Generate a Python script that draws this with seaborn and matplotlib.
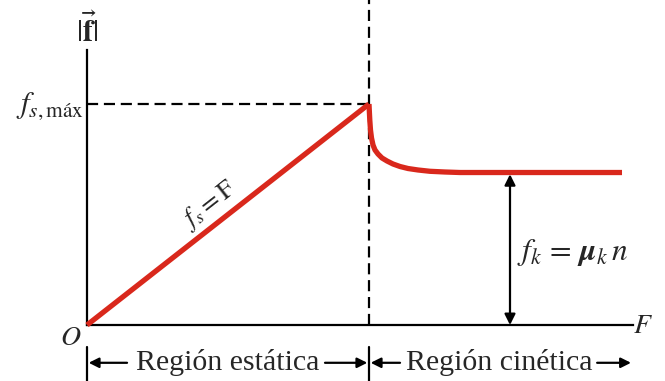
import matplotlib
matplotlib.use("Agg")
import matplotlib.pyplot as plt
import seaborn as sns
import pandas as pd

sns.set_theme(style="white")
plt.rcParams["font.family"] = ["Liberation Serif", "DejaVu Serif"]
plt.rcParams["mathtext.fontset"] = "stix"

# Applied force F (scaled so the breakaway point sits at F = 1)
static_F = [0.0, 1.0]
static_f = [0.0, 1.0]

# Friction drops from the static maximum to the kinetic level
kinetic_F = [1.0, 1.001, 1.0028, 1.0053, 1.0089, 1.0142, 1.0213, 1.0319, 1.0461,
             1.0638, 1.0851, 1.1099, 1.1383, 1.1738, 1.2163, 1.2695, 1.3227, 1.8972]
kinetic_f = [1.0, 0.9729, 0.9276, 0.8824, 0.8462, 0.8145, 0.7919, 0.7738, 0.7557,
             0.7421, 0.7285, 0.7172, 0.7081, 0.7014, 0.6955, 0.6923, 0.69, 0.69]

fs_max = 1.0
fk_level = 0.69
F_break = 1.0

W, H = 665, 381
fig = plt.figure(figsize=(W / 100, H / 100), dpi=100)
ox, oy = 87, 325          # origin in pixels
sx, sy = 282, 221          # pixels per data unit
right_px, top_px = 633, 50
ax = fig.add_axes([ox / W, (H - oy) / H, (right_px - ox) / W, (oy - top_px) / H])
ax.set_xlim(0, (right_px - ox) / sx)
ax.set_ylim(0, (oy - top_px) / sy)

red = "#d9281c"
df_s = pd.DataFrame({"F": static_F, "f": static_f})
df_k = pd.DataFrame({"F": kinetic_F, "f": kinetic_f})
sns.lineplot(data=df_s, x="F", y="f", color=red, lw=3.8, ax=ax, clip_on=False,
             solid_capstyle="butt", sort=False, zorder=3)
sns.lineplot(data=df_k, x="F", y="f", color=red, lw=3.8, ax=ax, clip_on=False,
             solid_capstyle="butt", solid_joinstyle="round", sort=False, zorder=3)

# Axes: only left and bottom spines
for side in ("top", "right"):
    ax.spines[side].set_visible(False)
for side in ("left", "bottom"):
    ax.spines[side].set_color("black")
    ax.spines[side].set_linewidth(1.6)
ax.set_xticks([])
ax.set_yticks([])
ax.set_xlabel("")
ax.set_ylabel("")

# Dashed guides at the breakaway point
ymin_fig = (oy - H) / sy
ymax_fig = oy / sy
ax.plot([0, F_break], [fs_max, fs_max], color="black", lw=1.6, ls=(0, (5, 2.6)),
        clip_on=False, zorder=1)
ax.plot([F_break, F_break], [0, ymax_fig], color="black", lw=1.6,
        ls=(0, (5, 2.6)), clip_on=False, zorder=1)

# Kinetic friction magnitude arrow
ax.annotate("", xy=(1.5, fk_level - 0.008), xytext=(1.5, 0.0),
            arrowprops=dict(arrowstyle="<|-|>", color="black", lw=1.6,
                            mutation_scale=16, shrinkA=0, shrinkB=0),
            annotation_clip=False)

# Labels
ax.text(-0.012, fs_max - 0.01, r"$f_{s,\mathrm{máx}}$", ha="right", va="center",
        fontsize=22, clip_on=False)
ax.text(0.0, 1.33, r"$|\vec{\mathbf{f}}|$", ha="center", va="center",
        fontsize=22, clip_on=False)
ax.text(-0.058, -0.059, r"$O$", ha="center", va="center", fontsize=20, clip_on=False)
ax.text(1.972, -0.005, r"$F$", ha="center", va="center", fontsize=20, clip_on=False)
ax.text(0.435, 0.545, r"$f_s = \mathrm{F}$", ha="center", va="center", fontsize=19,
        rotation=38.1, rotation_mode="anchor", clip_on=False)
ax.text(1.525, 0.33, r"$f_k\,=\,\boldsymbol{\mu}_k\, n$", ha="left", va="center",
        fontsize=22.5, clip_on=False)

# Region markers below the F axis
yb = -0.171
ybar = -0.0995
ax.plot([0, 0], [ybar, ymin_fig], color="black", lw=1.6, clip_on=False)
ax.plot([F_break, F_break], [ybar, ymin_fig], color="black", lw=1.6, clip_on=False)
arrow_kw = dict(arrowstyle="-|>", color="black", lw=1.6, mutation_scale=15,
                shrinkA=0, shrinkB=0)
ax.annotate("", xy=(0.006, yb), xytext=(0.142, yb), arrowprops=arrow_kw,
            annotation_clip=False)
ax.annotate("", xy=(F_break - 0.006, yb), xytext=(0.844, yb), arrowprops=arrow_kw,
            annotation_clip=False)
ax.annotate("", xy=(F_break + 0.006, yb), xytext=(1.11, yb), arrowprops=arrow_kw,
            annotation_clip=False)
ax.annotate("", xy=(1.929, yb), xytext=(1.809, yb), arrowprops=arrow_kw,
            annotation_clip=False)
ax.text(0.498, yb, "Región estática", ha="center", va="center", fontsize=21.5,
        clip_on=False)
ax.text(1.463, yb, "Región cinética", ha="center", va="center", fontsize=21.5,
        clip_on=False)

fig.savefig("out.png", dpi=100)
